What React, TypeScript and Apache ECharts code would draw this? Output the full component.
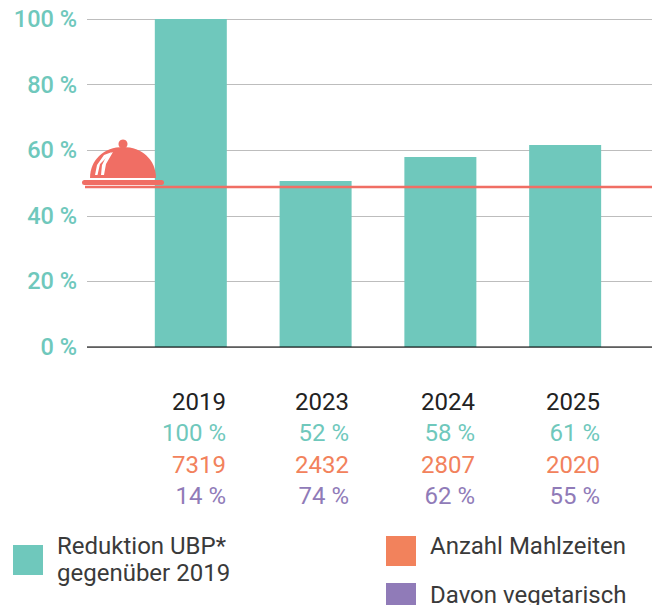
import React, { useEffect, useRef } from "react";
import * as echarts from "echarts";

const years = ["2019", "2023", "2024", "2025"];
const reductionBars = [100, 50.6, 57.9, 61.6];
const reductionLabels = ["100 %", "52 %", "58 %", "61 %"];
const mealLabels = ["7319", "2432", "2807", "2020"];
const vegLabels = ["14 %", "74 %", "62 %", "55 %"];
const refLevel = 48.8;

const TEAL = "#6FC8BC";
const ORANGE = "#F2825C";
const PURPLE = "#907BB8";
const RED = "#F06E64";
const INK = "#222222";
const LEGEND_INK = "#3A3A3A";
const FONT = "Roboto";

const domePath =
  "M90 178 C90 160 104 147 123 147 C142 147 156 160 156 178 Z";
echarts.graphic.registerShape("clocheDome", echarts.graphic.extendPath(domePath as any, {}) as any);

export default function App() {
  const ref = useRef<HTMLDivElement>(null);
  useEffect(() => {
    document.body.style.margin = "0";
    const chart = echarts.init(ref.current!, undefined, { renderer: "svg" });
    const rowY = [402, 433, 465, 496];
    const colX = [226, 349, 475, 600];
    const rows: [string[], string][] = [
      [years, INK],
      [reductionLabels, TEAL],
      [mealLabels, ORANGE],
      [vegLabels, PURPLE],
    ];
    const tableText: any[] = [];
    rows.forEach(([labels, fill], r) =>
      labels.forEach((t, c) =>
        tableText.push({
          type: "text",
          x: colX[c],
          y: rowY[r],
          style: { text: t, fill, font: `400 24px ${FONT}`, align: "right", verticalAlign: "middle" },
        })
      )
    );
    const legendText = (text: string, x: number, y: number) => ({
      type: "text",
      x,
      y,
      style: { text, fill: LEGEND_INK, font: `400 24px ${FONT}`, verticalAlign: "middle" },
    });
    chart.setOption({
      animation: false,
      grid: { left: 87, right: 3, top: 19, bottom: 258, containLabel: false },
      xAxis: {
        type: "value",
        min: -0.832,
        max: 3.696,
        show: false,
        splitLine: { show: false },
      },
      yAxis: {
        type: "value",
        min: 0,
        max: 100,
        interval: 20,
        axisLine: { show: false },
        axisTick: { show: false },
        axisLabel: {
          margin: 10,
          color: TEAL,
          fontFamily: FONT,
          fontWeight: 500,
          fontSize: 23.5,
          formatter: (v: number) => `${v} %`,
        },
        splitLine: {
          lineStyle: {
            width: 1.2,
            color: "#BDBDBD",
          },
        },
      },
      series: [
        {
          type: "bar",
          barWidth: 72,
          itemStyle: { color: TEAL },
          data: reductionBars.map((v, i) => [i, v]),
          z: 2,
        },
        {
          type: "line",
          symbol: "none",
          clip: false,
          lineStyle: { color: RED, width: 2.5 },
          data: [
            [-0.872, refLevel],
            [3.696, refLevel],
          ],
          z: 3,
        },
        {
          type: "line",
          symbol: "none",
          clip: false,
          lineStyle: { color: "#000000", width: 1.2 },
          data: [
            [-0.832, 0],
            [3.696, 0],
          ],
          z: 4,
        },
      ],
      graphic: [
        { type: "clocheDome", style: { fill: RED }, z: 10 },
        { type: "circle", shape: { cx: 123, cy: 144, r: 4.5 }, style: { fill: RED }, z: 10 },
        { type: "rect", shape: { x: 82, y: 180, width: 82, height: 5, r: 2.5 }, style: { fill: RED }, z: 10 },
        {
          type: "polygon",
          shape: { points: [[95, 175], [97.5, 175], [100, 164], [112, 152], [104, 155], [97, 165]] },
          style: { fill: "#FFFFFF" },
          z: 11,
        },
        {
          type: "polygon",
          shape: { points: [[101, 175], [104, 175], [106, 164], [113, 152], [107, 155], [102, 165]] },
          style: { fill: "#FFFFFF" },
          z: 11,
        },
        ...tableText,
        { type: "rect", shape: { x: 13, y: 545, width: 30, height: 30 }, style: { fill: TEAL } },
        legendText("Reduktion UBP*", 57, 546),
        legendText("gegenüber 2019", 57, 573),
        { type: "rect", shape: { x: 386, y: 536, width: 30, height: 30 }, style: { fill: ORANGE } },
        legendText("Anzahl Mahlzeiten", 430, 546),
        { type: "rect", shape: { x: 386, y: 583, width: 30, height: 30 }, style: { fill: PURPLE } },
        legendText("Davon vegetarisch", 430, 595),
      ],
    });
    return () => chart.dispose();
  }, []);
  return <div ref={ref} style={{ position: "absolute", left: 0, top: 0, width: 655, height: 605, overflow: "hidden", background: "#fff" }} />;
}
